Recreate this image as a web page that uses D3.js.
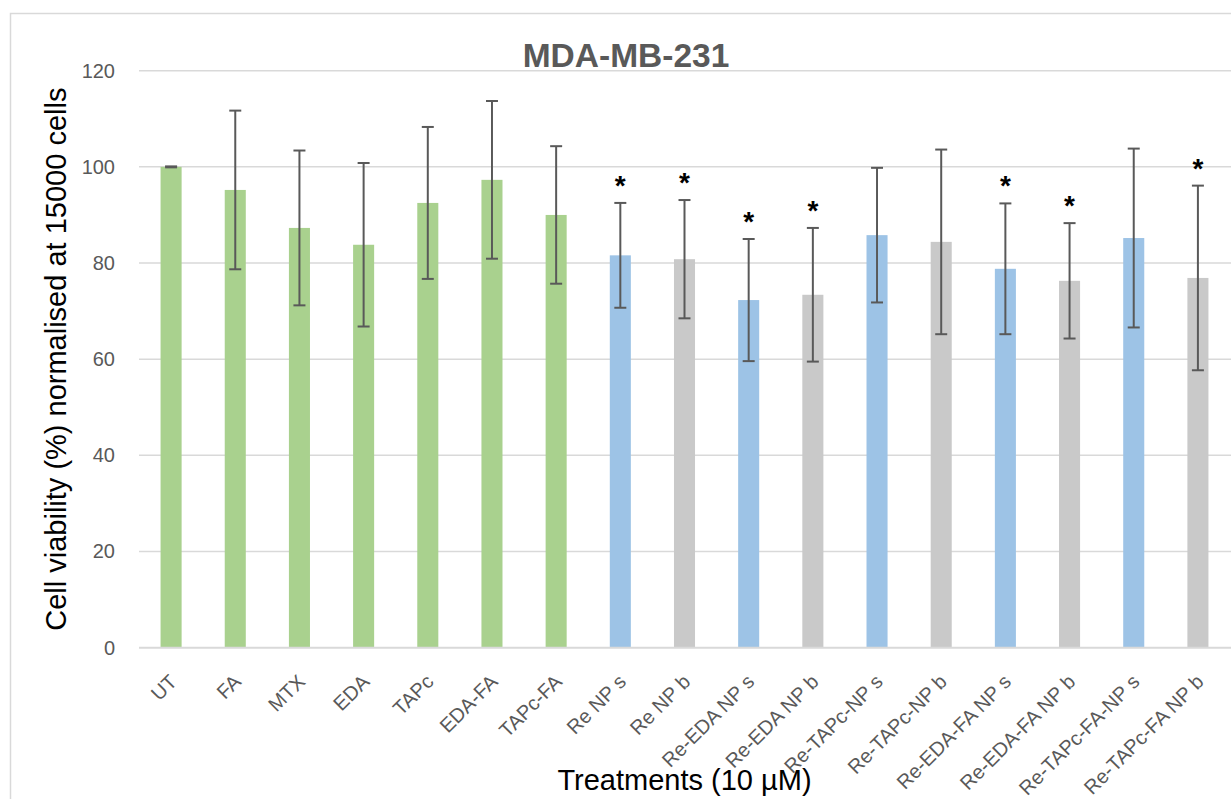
<!DOCTYPE html>
<html>
<head>
<meta charset="utf-8">
<script src="https://cdn.jsdelivr.net/npm/d3@7"></script>
<style>
  html, body { margin: 0; padding: 0; background: #ffffff; }
  svg { display: block; }
</style>
</head>
<body>
<svg id="chart" width="1231" height="799"></svg>
<script>
// Treatment groups (x categories)
const categories = [
  "UT", "FA", "MTX", "EDA", "TAPc", "EDA-FA", "TAPc-FA",
  "Re NP s", "Re NP b", "Re-EDA NP s", "Re-EDA NP b",
  "Re-TAPc-NP s", "Re-TAPc-NP b", "Re-EDA-FA NP s", "Re-EDA-FA NP b",
  "Re-TAPc-FA-NP s", "Re-TAPc-FA NP b"
];
// Mean cell viability (%)
const viability = [
  100, 95.2, 87.3, 83.8, 92.5, 97.3, 90.0,
  81.6, 80.8, 72.3, 73.4,
  85.8, 84.4, 78.8, 76.3,
  85.2, 76.9
];
// Standard deviation (error bar half-length)
const stdev = [
  0.1, 16.5, 16.1, 17.0, 15.8, 16.4, 14.3,
  10.9, 12.3, 12.7, 13.9,
  14.0, 19.2, 13.6, 12.0,
  18.6, 19.2
];
// Bar group: free compounds, small NPs, big NPs
const groups = [
  "free", "free", "free", "free", "free", "free", "free",
  "s", "b", "s", "b",
  "s", "b", "s", "b",
  "s", "b"
];
// Statistically significant treatments
const significant = [
  false, false, false, false, false, false, false,
  true, true, true, true,
  false, false, true, true,
  false, true
];
const yTicks = [0, 20, 40, 60, 80, 100, 120];

const groupColor = { free: "#a9d18e", s: "#9dc3e6", b: "#c9c9c9" };

const data = categories.map((c, i) => ({
  name: c, value: viability[i], err: stdev[i], group: groups[i], sig: significant[i]
}));

const svg = d3.select("#chart");
const font = "'Liberation Sans', Arial, sans-serif";

// Chart frame
svg.append("rect")
  .attr("x", 10.5).attr("y", 13.5)
  .attr("width", 1400).attr("height", 1000)
  .attr("fill", "#ffffff")
  .attr("stroke", "#d9d9d9").attr("stroke-width", 1.5);

const plot = { left: 139, right: 1230, top: 70.7, bottom: 647.7 };

const x = d3.scaleBand()
  .domain(categories)
  .range([plot.left, plot.right])
  .paddingInner(0.672)
  .paddingOuter(0.336);

const y = d3.scaleLinear()
  .domain([0, 120])
  .range([plot.bottom, plot.top]);

// Horizontal gridlines
svg.append("g")
  .selectAll("line")
  .data(yTicks.filter(t => t > 0))
  .join("line")
  .attr("x1", plot.left).attr("x2", 1300)
  .attr("y1", d => y(d)).attr("y2", d => y(d))
  .attr("stroke", "#d9d9d9").attr("stroke-width", 1.5);

// Y axis tick labels
const yAxis = d3.axisLeft(y).tickValues(yTicks).tickSize(0).tickPadding(24);
const gy = svg.append("g")
  .attr("transform", `translate(${plot.left},0)`)
  .call(yAxis);
gy.select(".domain").remove();
gy.selectAll("text")
  .attr("font-family", font)
  .attr("font-size", 20)
  .attr("fill", "#595959");

// Bars
svg.append("g")
  .selectAll("rect")
  .data(data)
  .join("rect")
  .attr("x", d => x(d.name))
  .attr("y", d => y(d.value))
  .attr("width", x.bandwidth())
  .attr("height", d => y(0) - y(d.value))
  .attr("fill", d => groupColor[d.group]);

// Category axis line
svg.append("line")
  .attr("x1", plot.left).attr("x2", 1300)
  .attr("y1", y(0)).attr("y2", y(0))
  .attr("stroke", "#d9d9d9").attr("stroke-width", 2);

// Error bars
const capHalf = 6;
const eb = svg.append("g")
  .attr("stroke", "#595959")
  .attr("stroke-width", 2)
  .selectAll("g")
  .data(data)
  .join("g");
eb.append("line")
  .attr("x1", d => x(d.name) + x.bandwidth() / 2)
  .attr("x2", d => x(d.name) + x.bandwidth() / 2)
  .attr("y1", d => y(d.value + d.err))
  .attr("y2", d => y(d.value - d.err));
eb.append("line")
  .attr("x1", d => x(d.name) + x.bandwidth() / 2 - capHalf)
  .attr("x2", d => x(d.name) + x.bandwidth() / 2 + capHalf)
  .attr("y1", d => y(d.value + d.err))
  .attr("y2", d => y(d.value + d.err));
eb.append("line")
  .attr("x1", d => x(d.name) + x.bandwidth() / 2 - capHalf)
  .attr("x2", d => x(d.name) + x.bandwidth() / 2 + capHalf)
  .attr("y1", d => y(d.value - d.err))
  .attr("y2", d => y(d.value - d.err));

// Significance markers above the error bars
svg.append("g")
  .selectAll("text")
  .data(data.filter(d => d.sig))
  .join("text")
  .attr("x", d => x(d.name) + x.bandwidth() / 2)
  .attr("y", d => y(d.value + d.err) - 8)
  .attr("text-anchor", "middle")
  .attr("font-family", font)
  .attr("font-weight", "bold")
  .attr("font-size", 28)
  .attr("fill", "#000000")
  .text("*");

// Rotated category labels
svg.append("g")
  .selectAll("text")
  .data(categories)
  .join("text")
  .attr("transform", d => `translate(${x(d) + x.bandwidth() / 2 + 7},683) rotate(-45)`)
  .attr("text-anchor", "end")
  .attr("font-family", font)
  .attr("font-size", 20)
  .attr("fill", "#595959")
  .text(d => d);

// Title
svg.append("text")
  .attr("x", 626).attr("y", 66.5)
  .attr("text-anchor", "middle")
  .attr("font-family", font)
  .attr("font-weight", "bold")
  .attr("font-size", 33.5)
  .attr("fill", "#595959")
  .text("MDA-MB-231");

// Axis titles
svg.append("text")
  .attr("transform", `translate(66,${(plot.top + plot.bottom) / 2}) rotate(-90)`)
  .attr("text-anchor", "middle")
  .attr("font-family", font)
  .attr("font-size", 29)
  .attr("fill", "#000000")
  .text("Cell viability (%) normalised at 15000 cells");

svg.append("text")
  .attr("x", (plot.left + plot.right) / 2).attr("y", 790)
  .attr("text-anchor", "middle")
  .attr("font-family", font)
  .attr("font-size", 29)
  .attr("fill", "#000000")
  .text("Treatments (10 µM)");
</script>
</body>
</html>
